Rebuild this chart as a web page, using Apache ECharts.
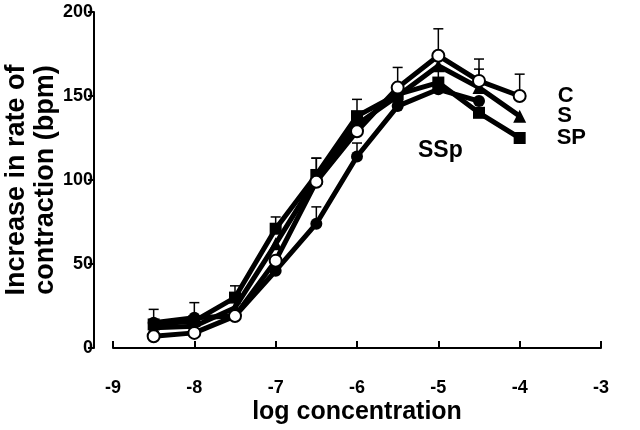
<!DOCTYPE html>
<html>
<head>
<meta charset="utf-8">
<script src="https://cdn.jsdelivr.net/npm/echarts@6/dist/echarts.min.js"></script>
<style>html,body{margin:0;padding:0;background:#fff;}#c{width:640px;height:430px;}</style>
</head>
<body>
<div id="c"></div>
<script>
// log concentration positions
const logConc = [-8.5, -8, -7.5, -7, -6.5, -6, -5.5, -5, -4.5, -4];
// mean increase in rate of contraction (bpm)
const C_vals   = [7, 9, 19, 52, 99, 129, 155, 174, 159, 150];
const S_vals   = [12, 13, 24, 62, 101, 133, 150, 168, 155, 138];
const SP_vals  = [14, 16, 30, 71, 103, 138, 151, 158, 140, 125];
const SSp_vals = [15, 18, 19, 46, 74, 114, 144, 154, 147, null];
// upper ends of error bars (null = not visible)
const C_err   = [null, null, null, null, 113, null, 167, 190, 172, 163];
const S_err   = [null, null, null, null, null, null, null, null, 166, null];
const SP_err  = [null, null, 37, 78, 113, 148, null, 166, null, null];
const SSp_err = [23, 27, null, null, 84, 122, null, null, null, null];
const xTicks = [-9, -8, -7, -6, -5, -4, -3];
const yTicks = [0, 50, 100, 150, 200];

const FONT = 'Liberation Sans, Arial, sans-serif';

function pairs(vals) { return logConc.map((x, i) => [x, vals[i]]).filter(p => p[1] != null); }
function errPairs(vals, errs) {
  const out = [];
  logConc.forEach((x, i) => { if (errs[i] != null && vals[i] != null) out.push([x, vals[i], errs[i]]); });
  return out;
}
const errData = [].concat(errPairs(C_vals, C_err), errPairs(S_vals, S_err), errPairs(SP_vals, SP_err), errPairs(SSp_vals, SSp_err));

function lineSeries(name, vals, symbol, fill, z, labelText) {
  const data = pairs(vals).map((p, i, arr) => {
    if (labelText && i === arr.length - 1) {
      return { value: p, label: { show: true, position: 'right', distance: 31, formatter: labelText,
        fontFamily: FONT, fontWeight: 'bold', fontSize: 22, color: '#000' } };
    }
    return p;
  });
  return {
    name: name, type: 'line', data: data, z: z,
    symbol: symbol, symbolSize: symbol === 'triangle' ? 13 : 12,
    showSymbol: true,
    lineStyle: { color: '#000', width: 5 },
    itemStyle: { color: fill, borderColor: '#000', borderWidth: fill === '#fff' ? 2 : 0 },
    animation: false
  };
}

const chart = echarts.init(document.getElementById('c'), null, { renderer: 'canvas' });
chart.setOption({
  backgroundColor: '#fff',
  animation: false,
  grid: { left: 113, right: 39, top: 12, bottom: 82, containLabel: false, outerBoundsMode: 'none' },
  xAxis: {
    type: 'value', min: -9, max: -3, interval: 1, offset: 19,
    name: 'log concentration', nameLocation: 'middle', nameGap: 33, nameMoveOverlap: false,
    nameTextStyle: { fontFamily: FONT, fontWeight: 'bold', fontSize: 25, color: '#000' },
    axisLine: { show: true, lineStyle: { color: '#000', width: 2 } },
    axisTick: { show: true, inside: true, length: 7, lineStyle: { color: '#000', width: 2 } },
    axisLabel: { fontFamily: FONT, fontWeight: 'bold', fontSize: 18, color: '#000', margin: 12 },
    splitLine: { show: false }
  },
  yAxis: {
    type: 'value', min: 0, max: 200, interval: 50, offset: 19,
    name: 'Increase in rate of\ncontraction (bpm)', nameLocation: 'middle', nameGap: 34, nameMoveOverlap: false,
    nameTextStyle: { fontFamily: FONT, fontWeight: 'bold', fontSize: 27, color: '#000', lineHeight: 29 },
    axisLine: { show: true, lineStyle: { color: '#000', width: 2 } },
    axisTick: { show: true, length: 6, lineStyle: { color: '#000', width: 2 } },
    axisLabel: { fontFamily: FONT, fontWeight: 'bold', fontSize: 18, color: '#000', margin: 1 },
    splitLine: { show: false }
  },
  graphic: [{
    type: 'text', left: 418, top: 139, z: 100,
    style: { text: 'SSp', font: 'bold 23px ' + FONT, fill: '#000' }
  }],
  series: [
    {
      type: 'custom', z: 1, data: errData, animation: false,
      renderItem: function (params, api) {
        const x = api.value(0), lo = api.value(1), hi = api.value(2);
        const p1 = api.coord([x, lo]), p2 = api.coord([x, hi]);
        const st = { stroke: '#000', lineWidth: 1.5 };
        return { type: 'group', children: [
          { type: 'line', shape: { x1: p1[0], y1: p1[1], x2: p2[0], y2: p2[1] }, style: st },
          { type: 'line', shape: { x1: p2[0] - 5, y1: p2[1], x2: p2[0] + 5, y2: p2[1] }, style: st }
        ] };
      }
    },
    lineSeries('SSp', SSp_vals, 'circle', '#000', 2, null),
    lineSeries('SP', SP_vals, 'rect', '#000', 3, 'SP'),
    lineSeries('S', S_vals, 'triangle', '#000', 4, 'S'),
    lineSeries('C', C_vals, 'circle', '#fff', 5, 'C')
  ]
});
</script>
</body>
</html>
